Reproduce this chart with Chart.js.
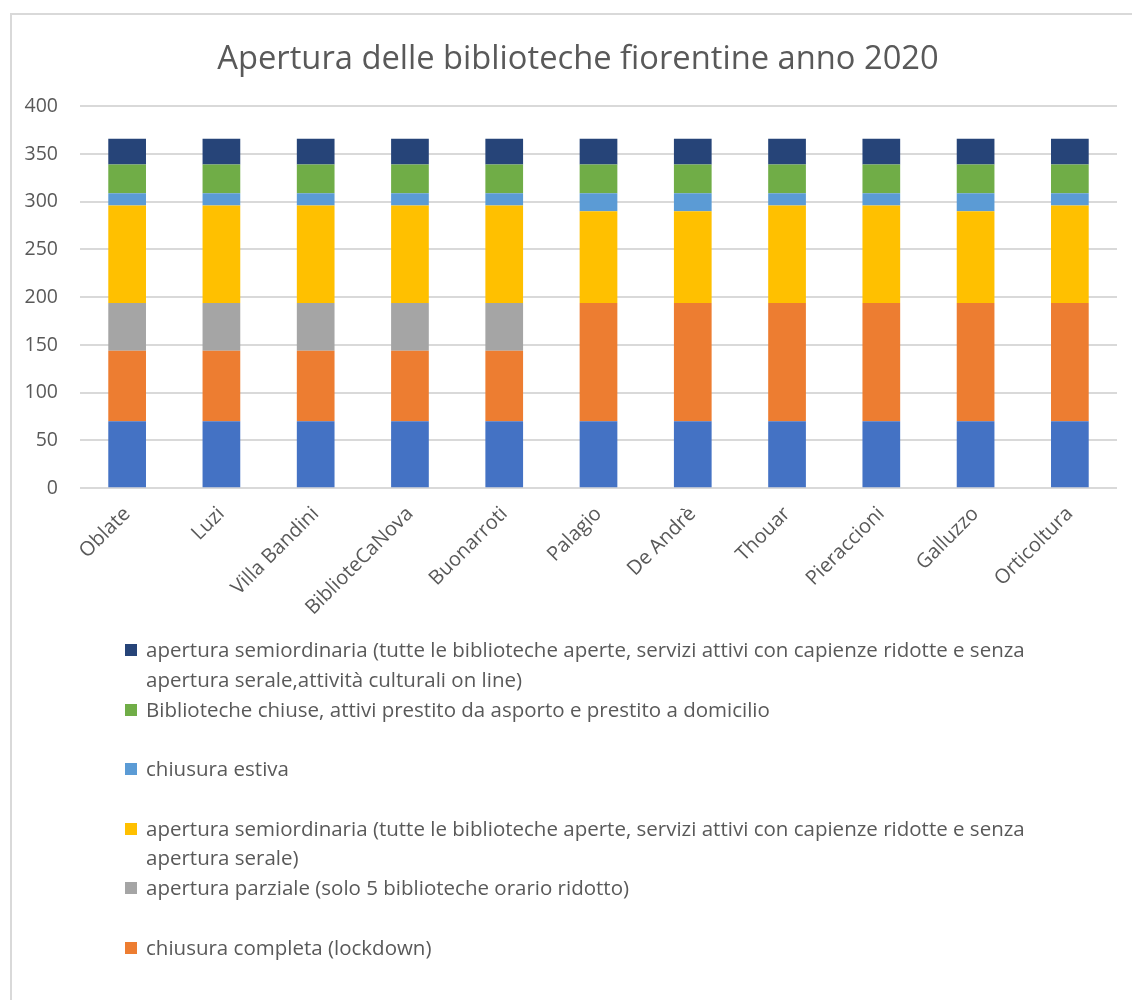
<!DOCTYPE html>
<html>
<head>
<meta charset="utf-8">
<script src="https://cdn.jsdelivr.net/npm/chart.js@4"></script>
<style>
  body { margin: 0; background: #fff; font-family: "Open Sans", sans-serif; overflow: hidden; }
  #frame { position: absolute; left: 10px; top: 13px; width: 1140px; height: 1000px;
           border-left: 2px solid #d9d9d9; border-top: 2px solid #d9d9d9; }
  #wrap { position: absolute; left: 0; top: 0; width: 1150px; height: 636px; }
  #legend { position: absolute; left: 125px; top: 635px; width: 1000px; color: #595959;
            font-size: 20.5px; }
  .item { position: relative; height: 59.5px; line-height: 29.5px; padding-left: 21px; }
  .item span.box { position: absolute; left: 0; top: 9px; width: 12px; height: 12px; }
  .item div { width: 910px; }
</style>
</head>
<body>
<div id="frame"></div>
<div id="wrap"><canvas id="chart"></canvas></div>
<div id="legend"></div>
<script>
const biblioteche = ["Oblate", "Luzi", "Villa Bandini", "BiblioteCaNova", "Buonarroti",
  "Palagio", "De Andrè", "Thouar", "Pieraccioni", "Galluzzo", "Orticoltura"];

// giorni per periodo, dal basso verso l'alto
const aperturaOrdinaria = [70, 70, 70, 70, 70, 70, 70, 70, 70, 70, 70];
const chiusuraCompleta = [74, 74, 74, 74, 74, 124, 124, 124, 124, 124, 124];
const aperturaParziale = [50, 50, 50, 50, 50, 0, 0, 0, 0, 0, 0];
const semiordinaria = [102, 102, 102, 102, 102, 96, 96, 102, 102, 96, 102];
const chiusuraEstiva = [13, 13, 13, 13, 13, 19, 19, 13, 13, 19, 13];
const prestitoAsporto = [30, 30, 30, 30, 30, 30, 30, 30, 30, 30, 30];
const semiordinariaOnline = [27, 27, 27, 27, 27, 27, 27, 27, 27, 27, 27];

const yTicks = [0, 50, 100, 150, 200, 250, 300, 350, 400];

const grey = "#595959";

const datasets = [
  { label: "apertura ordinaria", data: aperturaOrdinaria, backgroundColor: "#4472C4", inLegend: false },
  { label: "chiusura completa (lockdown)", data: chiusuraCompleta, backgroundColor: "#ED7D31" },
  { label: "apertura parziale (solo 5 biblioteche orario ridotto)", data: aperturaParziale, backgroundColor: "#A5A5A5" },
  { label: "apertura semiordinaria (tutte le biblioteche aperte, servizi attivi con capienze ridotte e senza apertura serale)", data: semiordinaria, backgroundColor: "#FFC000" },
  { label: "chiusura estiva", data: chiusuraEstiva, backgroundColor: "#5B9BD5" },
  { label: "Biblioteche chiuse, attivi prestito da asporto e prestito a domicilio", data: prestitoAsporto, backgroundColor: "#70AD47" },
  { label: "apertura semiordinaria (tutte le biblioteche aperte, servizi attivi con capienze ridotte e senza apertura serale,attività culturali on line)", data: semiordinariaOnline, backgroundColor: "#264478" },
];

const ctx = document.getElementById("chart").getContext("2d");
const chart = new Chart(ctx, {
  type: "bar",
  data: {
    labels: biblioteche,
    datasets: datasets.map((d) => ({
      label: d.label,
      data: d.data,
      backgroundColor: d.backgroundColor,
      borderWidth: 0,
      barPercentage: 0.4,
      categoryPercentage: 1,
    })),
  },
  options: {
    responsive: true,
    maintainAspectRatio: false,
    animation: false,
    layout: { padding: { left: 22, right: 16, top: 23, bottom: 10 } },
    plugins: {
      legend: { display: false },
      tooltip: { enabled: false },
      title: {
        display: true,
        text: "Apertura delle biblioteche fiorentine anno 2020",
        color: grey,
        font: { family: "Open Sans", size: 32.7, weight: "normal" },
        padding: { top: 17, bottom: 27 },
      },
    },
    scales: {
      x: {
        stacked: true,
        grid: { display: false },
        border: { display: false },
        ticks: {
          color: grey,
          font: { family: "Open Sans", size: 20 },
          minRotation: 45,
          maxRotation: 45,
          padding: 6,
        },
      },
      y: {
        stacked: true,
        min: 0,
        max: 400,
        afterBuildTicks: (axis) => { axis.ticks = yTicks.map((v) => ({ value: v })); },
        afterFit: (axis) => { axis.width = 58; },
        grid: { color: "#d9d9d9", lineWidth: 2, drawTicks: false },
        border: { display: false },
        ticks: {
          color: grey,
          font: { family: "Open Sans", size: 19.5 },
          padding: 22,
        },
      },
      // asse vuoto a destra, solo per spazio (titolo centrato come in Excel)
      spacer: {
        position: "right",
        min: 0,
        max: 400,
        grid: { display: false },
        border: { display: false },
        ticks: { display: false },
        afterFit: (axis) => { axis.width = 17; },
      },
    },
  },
});

// legenda in stile Excel, dall'alto verso il basso
const legend = document.getElementById("legend");
chart.data.datasets.slice().reverse().forEach((ds, i) => {
  if (datasets[datasets.length - 1 - i].inLegend === false) return;
  const item = document.createElement("div");
  item.className = "item";
  const box = document.createElement("span");
  box.className = "box";
  box.style.background = ds.backgroundColor;
  const txt = document.createElement("div");
  txt.textContent = ds.label;
  item.appendChild(box);
  item.appendChild(txt);
  legend.appendChild(item);
});
</script>
</body>
</html>
